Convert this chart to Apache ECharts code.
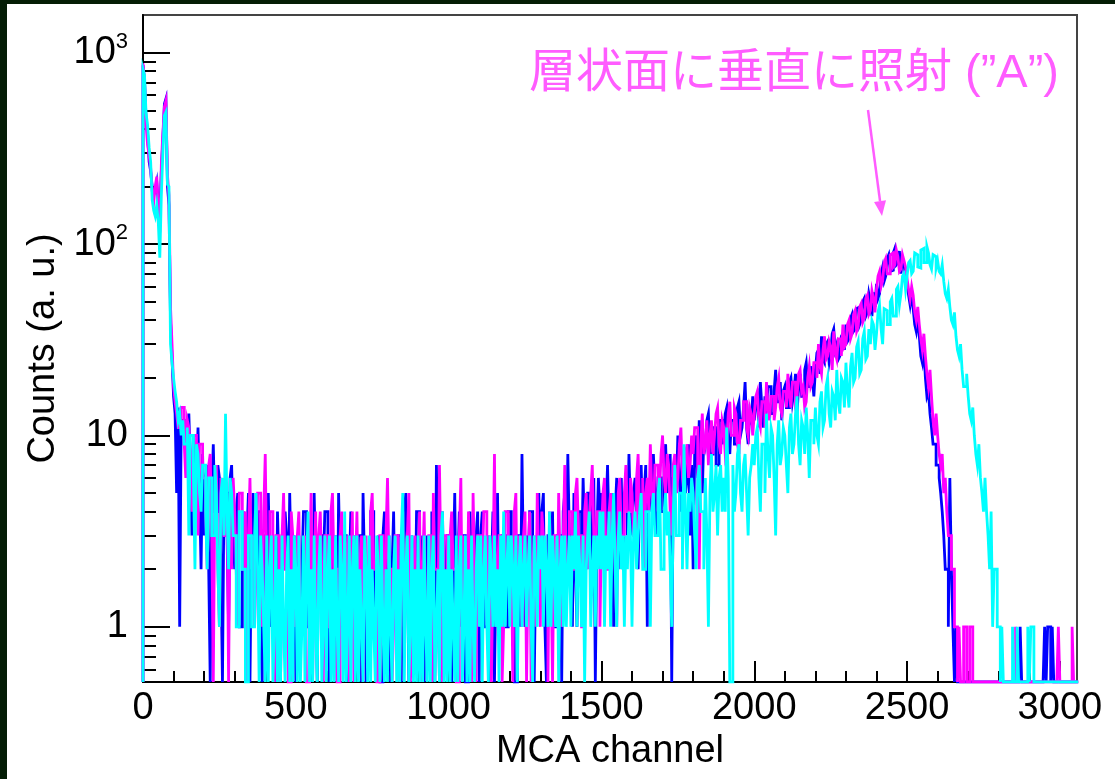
<!DOCTYPE html>
<html><head><meta charset="utf-8">
<script src="https://cdn.jsdelivr.net/npm/echarts@6/dist/echarts.min.js"></script>
<style>
html,body{margin:0;padding:0;background:#041d05;width:1115px;height:779px;overflow:hidden;}
#chart{position:absolute;left:7px;top:4px;width:1108px;height:775px;background:#ffffff;}
</style></head><body><div id="chart"></div>
<script>
// ---- data: counts per 5-channel MCA bin (bin i covers channels 5*i .. 5*i+4); one row = 100 channels ----
const BIN_WIDTH = 5;
const blueCounts = [
860,720,450,380,270,240,200,180,190,210,160,140,240,350,540,575,200,160,40,25,
16,13,5,14,1,12,12,9,9,11,13,7,3,10,8,6,11,5,2,8,
3,6,7,2,0,5,9,4,4,7,6,2,0,5,5,3,1,6,7,3,
2,4,5,1,1,3,4,2,3,5,0,3,5,2,2,4,4,1,0,3,
3,1,5,2,1,3,2,0,4,2,0,3,2,4,3,1,5,2,1,3,
0,2,3,1,2,4,4,1,1,3,2,0,5,2,0,3,3,1,2,4,
4,2,0,3,2,1,3,0,5,2,1,3,3,1,0,2,4,1,2,3,
1,3,3,0,5,2,0,2,2,4,4,1,1,2,3,0,0,3,4,2,
2,3,0,2,4,1,1,3,3,0,2,4,5,2,0,1,3,2,1,4,
4,1,2,3,0,2,3,1,1,4,2,0,7,2,0,3,4,1,2,3,
3,1,0,2,5,1,2,4,1,3,3,0,0,2,4,2,2,1,3,4,
0,3,4,1,1,2,3,0,2,4,0,2,5,1,2,3,3,1,1,4,
4,2,2,0,0,3,3,1,8,2,1,3,2,4,4,1,0,2,3,5,
2,4,5,1,0,3,3,2,4,1,1,3,3,2,0,4,5,2,8,3,
3,1,5,2,1,4,4,2,6,3,2,5,5,2,3,6,0,3,6,4,
5,3,2,4,7,3,3,5,1,4,6,2,4,6,2,5,5,3,8,4,
3,5,6,4,2,5,7,3,5,7,1,5,6,4,8,5,3,6,6,4,
4,7,9,5,6,8,0,6,7,5,10,6,4,8,8,5,6,9,3,7,
2,8,10,6,12,8,5,10,9,12,13,8,8,11,11,7,7,12,12,9,
10,13,14,9,8,12,12,9,9,14,15,10,11,14,19,11,9,13,12,16,
12,15,16,11,19,14,11,16,14,18,18,13,13,17,22,15,15,19,12,17,
18,14,14,19,20,15,17,21,13,18,21,16,16,22,24,18,18,23,20,16,
22,27,28,21,33,25,24,30,31,24,27,34,36,28,30,25,26,33,34,28,
38,31,32,41,43,35,36,46,47,38,40,50,52,42,44,55,50,42,56,47,
62,52,55,70,76,64,68,84,88,72,73,90,95,78,80,92,70,84,78,68,
62,54,48,55,46,38,35,42,33,26,24,29,20,16,17,13,11,9,9,7,
7,6,5,4,3,2,2,1,6,2,1,0,1,0,0,0,0,0,0,0,
0,0,0,0,0,0,0,0,0,0,0,0,0,0,0,0,0,0,0,0,
0,0,0,0,0,0,0,0,0,0,0,0,0,0,1,0,0,0,0,0,
0,0,0,0,0,0,0,0,0,0,1,0,1,1,0,1,0,0,0,0,
0,0,0,0,0,0,0,0,0,0,0,0
];
const magentaCounts = [
880,700,420,330,290,250,190,165,200,225,150,115,260,380,520,560,230,180,47,30,
18,15,13,11,11,14,14,9,6,12,11,8,4,10,10,7,3,9,9,6,
6,4,2,7,8,3,0,5,7,2,1,6,5,3,3,5,0,4,2,6,
4,2,1,5,5,2,2,4,0,3,6,2,3,1,2,5,5,3,1,4,
8,2,2,4,4,1,0,3,3,0,1,3,5,2,2,0,0,4,3,1,
2,3,4,1,1,2,3,0,0,2,5,1,2,4,1,3,4,2,0,3,
3,1,1,4,5,2,2,0,0,3,4,1,1,2,3,0,2,4,0,2,
4,1,2,3,0,2,3,1,1,4,5,2,2,0,0,3,3,2,1,3,
6,2,2,0,1,3,3,1,0,2,4,1,2,3,5,0,1,2,3,1,
2,4,0,2,4,1,1,3,3,0,5,2,2,1,7,2,0,3,3,1,
1,3,4,2,2,0,0,3,6,1,3,2,1,4,2,0,5,2,0,3,
3,1,2,4,4,2,1,3,0,2,8,1,2,3,3,0,1,4,4,2,
2,3,0,4,5,1,3,2,1,3,4,0,2,4,0,2,3,1,5,2,
1,4,3,2,2,0,4,2,0,3,3,1,5,2,1,3,7,2,2,4,
4,2,2,5,6,3,3,1,1,4,5,2,3,5,7,3,2,4,4,1,
3,5,6,2,2,4,5,3,4,2,1,5,6,3,3,5,7,4,4,6,
5,3,3,6,8,4,4,6,2,5,6,4,9,5,4,7,7,4,5,8,
10,6,5,8,7,4,3,7,8,5,6,9,11,6,5,8,9,6,7,10,
8,11,11,7,2,9,13,8,9,12,7,10,12,8,10,13,14,9,8,12,
11,8,9,13,15,10,10,14,13,9,8,12,12,15,15,11,10,14,13,10,
13,16,17,12,11,15,15,11,19,14,12,16,16,12,14,18,20,14,13,17,
17,14,21,16,14,19,19,15,16,21,22,17,18,14,15,20,23,18,19,24,
24,20,30,23,21,28,33,25,26,31,29,22,35,27,25,32,32,26,38,29,
30,38,40,32,34,43,45,35,37,47,49,39,41,52,54,43,45,57,52,44,
58,68,72,60,64,80,84,70,70,88,90,76,78,93,86,72,74,88,82,76,
66,58,52,60,54,44,40,47,38,32,28,34,26,21,18,22,16,12,10,13,
10,8,7,8,5,6,4,3,3,2,2,1,1,0,1,0,0,1,1,0,
0,1,1,0,0,0,0,0,0,0,0,0,0,0,0,0,0,0,0,0,
0,0,0,0,0,0,0,0,0,0,0,1,0,0,0,0,0,0,0,0,
0,0,0,0,0,0,0,0,0,0,0,0,0,0,0,0,0,0,0,1,
0,0,0,0,0,0,0,0,1,0,0,0
];
const cyanCounts = [
820,760,480,420,320,270,170,150,140,160,130,85,180,300,470,490,205,200,30,24,
20,17,15,12,13,10,12,9,9,11,3,10,10,6,2,9,8,5,4,7,
7,4,2,6,6,3,3,7,5,2,1,5,6,3,13,4,2,6,5,3,
3,1,1,4,4,2,2,0,0,3,3,1,1,3,5,2,0,3,2,1,
0,3,0,2,3,0,1,3,0,2,0,3,1,0,2,3,0,2,0,3,
2,0,3,0,1,3,0,2,4,0,2,0,3,1,0,2,3,0,1,3,
0,2,3,0,2,0,3,1,0,3,2,0,4,0,1,3,0,2,3,0,
3,0,2,1,0,3,2,0,3,0,2,1,0,3,2,0,3,1,0,2,
0,3,1,0,2,3,0,2,0,3,5,0,2,3,0,1,3,0,2,0,
3,0,2,0,3,1,0,3,0,2,3,0,1,2,0,3,4,0,2,0,
3,0,2,1,0,3,0,2,3,0,1,3,0,2,0,3,1,0,2,3,
1,3,0,2,3,1,0,3,2,1,3,1,2,0,3,1,4,1,2,3,
1,3,2,1,3,0,2,3,1,2,3,1,2,3,1,0,3,2,1,3,
2,3,1,3,2,1,4,1,3,2,1,3,0,2,3,1,3,1,2,3,
1,3,2,4,1,3,2,1,3,0,2,3,4,1,2,3,1,3,2,4,
2,4,1,3,2,4,1,3,5,2,1,3,4,2,3,1,3,2,4,3,
1,3,4,2,3,4,5,2,2,4,4,3,1,4,5,3,3,5,6,2,
2,4,5,3,4,2,1,4,7,3,3,5,5,2,9,4,2,5,4,6,
5,3,2,6,7,4,4,2,6,3,1,5,8,4,5,7,3,6,7,4,
6,4,11,6,0,0,7,4,5,8,9,5,4,7,8,5,3,6,7,9,
7,10,11,6,4,9,9,5,13,8,6,11,10,6,3,9,12,7,8,11,
10,7,5,11,13,8,9,13,16,9,7,12,11,8,14,10,6,12,12,9,
14,10,9,15,17,11,12,18,20,13,11,17,16,12,22,15,13,20,19,14,
24,17,14,23,27,19,20,29,31,21,22,32,35,25,26,36,30,40,38,28,
34,44,48,36,30,46,45,38,38,50,52,42,42,58,60,48,55,68,70,58,
68,80,82,70,72,90,88,76,75,93,95,80,80,97,90,78,74,88,86,75,
82,72,70,78,64,55,52,58,47,40,38,44,33,28,26,30,22,18,18,21,
16,13,12,14,10,8,7,9,6,5,4,6,4,3,2,4,1,2,2,1,
1,0,1,0,0,0,0,0,0,1,0,0,1,0,0,0,0,0,0,1,
0,1,1,0,0,0,0,0,0,0,0,0,0,0,0,0,0,0,0,0,
0,0,0,0,0,0,0,0,0,0,0,0
];
const xTickLabels = [0, 500, 1000, 1500, 2000, 2500, 3000];
const yTickValues = [1, 10, 100, 1000];
const yTickLabels = ['1', '10', '10{s|2}', '10{s|3}'];
const X_MAX = 3056;
const Y_MIN = 0.515, Y_MAX = 1574;
const annotationText = '層状面に垂直に照射 (”A”)';

// ---- build ----
const LOG_MIN = Math.log10(Y_MIN), LOG_MAX = Math.log10(Y_MAX);
function toPlot(counts) {
  const pts = [[0, LOG_MIN]];
  counts.forEach((c, i) => pts.push([i * BIN_WIDTH, c > 0 ? Math.log10(c) : LOG_MIN]));
  const last = counts[counts.length - 1];
  pts.push([counts.length * BIN_WIDTH, last > 0 ? Math.log10(last) : LOG_MIN]);
  return pts;
}
const xMinor = [];
for (let v = 0; v <= 3000; v += 100) if (v % 500 !== 0) xMinor.push(v);
const yMajor = yTickValues.map(v => Math.log10(v));
const yMinor = [];
for (let d = -1; d <= 3; d++) for (let m = 2; m <= 9; m++) {
  const lv = Math.log10(m * Math.pow(10, d));
  if (lv > LOG_MIN && lv < LOG_MAX) yMinor.push(lv);
}
const FONT = '"Liberation Sans", Arial, Helvetica, sans-serif';
const OX = 7, OY = 4; // container offset in page

function arrowHead(x1, y1, x2, y2, len, half) {
  const dx = x2 - x1, dy = y2 - y1, L = Math.hypot(dx, dy), ux = dx / L, uy = dy / L;
  const bx = x2 - ux * len, by = y2 - uy * len;
  return { base: [bx, by], pts: [[x2, y2], [bx - uy * half, by + ux * half], [bx + uy * half, by - ux * half]] };
}
const arrStart = [868 - OX, 110 - OY], arrEnd = [882 - OX, 216 - OY];
const ah = arrowHead(arrStart[0], arrStart[1], arrEnd[0], arrEnd[1], 15, 6);
const PINK = '#ff5cff';

const lineSeries = (name, color, counts) => ({
  name, type: 'line', step: 'end', showSymbol: false, symbol: 'none',
  data: toPlot(counts), clip: true, animation: false,
  lineStyle: { color, width: 2.8, join: 'miter', cap: 'butt' }, xAxisIndex: 0, yAxisIndex: 0
});

const chart = echarts.init(document.getElementById('chart'), null, { renderer: 'canvas' });
chart.setOption({
  animation: false,
  backgroundColor: '#ffffff',
  textStyle: { fontFamily: FONT },
  grid: { left: 136, right: 38, top: 11, bottom: 97, show: true, borderColor: '#444', borderWidth: 2, backgroundColor: 'transparent' },
  xAxis: [{
    type: 'value', min: 0, max: X_MAX, position: 'bottom',
    axisLine: { show: true, onZero: false, lineStyle: { color: '#000', width: 2 } },
    axisTick: { show: true, inside: true, length: 21, customValues: xTickLabels, lineStyle: { color: '#000', width: 2 } },
    axisLabel: { customValues: xTickLabels, formatter: v => String(v), fontSize: 38, color: '#000', fontFamily: FONT, margin: 8 },
    splitLine: { show: false },
    name: 'MCA channel', nameLocation: 'middle', nameGap: 50,
    nameTextStyle: { fontSize: 38, color: '#000', fontFamily: FONT }
  }, {
    type: 'value', min: 0, max: X_MAX, position: 'bottom',
    axisLine: { show: false, onZero: false }, axisLabel: { show: false }, splitLine: { show: false },
    axisTick: { show: true, inside: true, length: 11, customValues: xMinor, lineStyle: { color: '#000', width: 2 } }
  }],
  yAxis: [{
    type: 'value', min: LOG_MIN, max: LOG_MAX, position: 'left',
    axisLine: { show: true, onZero: false, lineStyle: { color: '#000', width: 2 } },
    axisTick: { show: true, inside: true, length: 27, customValues: yMajor, lineStyle: { color: '#000', width: 2 } },
    axisLabel: {
      customValues: yMajor, fontSize: 38, lineHeight: 44, color: '#000', fontFamily: FONT, margin: 15,
      formatter: v => { const i = yTickValues.indexOf(Math.round(Math.pow(10, v))); return i >= 0 ? yTickLabels[i] : ''; },
      rich: { s: { fontSize: 22, lineHeight: 22, verticalAlign: 'top', color: '#000', fontFamily: FONT } }
    },
    splitLine: { show: false },
    name: 'Counts (a. u.)', nameLocation: 'middle', nameRotate: 90, nameGap: 78,
    nameTextStyle: { fontSize: 38, color: '#000', fontFamily: FONT }
  }, {
    type: 'value', min: LOG_MIN, max: LOG_MAX, position: 'left',
    axisLine: { show: false, onZero: false }, axisLabel: { show: false }, splitLine: { show: false },
    axisTick: { show: true, inside: true, length: 13, customValues: yMinor, lineStyle: { color: '#000', width: 2 } }
  }],
  series: [
    lineSeries('blue', '#0000ff', blueCounts),
    lineSeries('magenta', '#ff00ff', magentaCounts),
    lineSeries('cyan', '#00ffff', cyanCounts)
  ],
  graphic: [
    { type: 'text', left: 529 - OX, top: 55 - OY - 4, z: 100,
      style: { text: annotationText, fill: PINK, font: '47px "Liberation Sans", "Noto Sans CJK JP", sans-serif' } },
    { type: 'line', z: 100, shape: { x1: arrStart[0], y1: arrStart[1], x2: ah.base[0], y2: ah.base[1] },
      style: { stroke: PINK, lineWidth: 2.5 } },
    { type: 'polygon', z: 100, shape: { points: ah.pts }, style: { fill: PINK } }
  ]
});
</script></body></html>
